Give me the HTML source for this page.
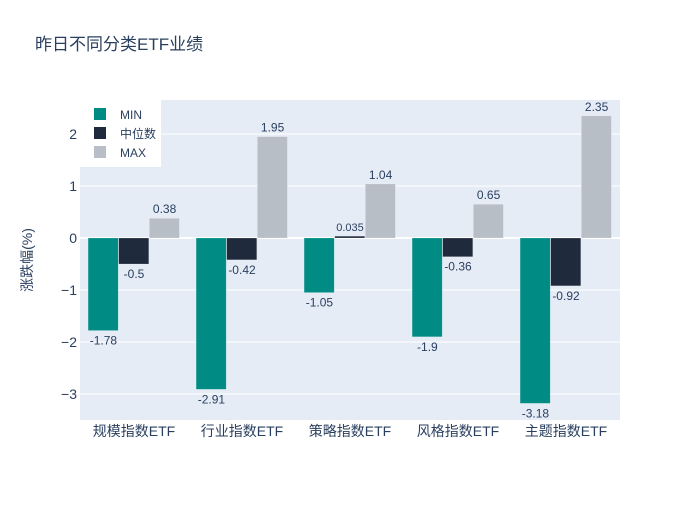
<!DOCTYPE html>
<html><head><meta charset="utf-8"><style>
body{margin:0;background:#fff;}
svg text{font-family:"Liberation Sans","Noto Sans CJK SC",sans-serif;fill:#2a3f5f;}
</style></head><body>
<svg width="700" height="500" xmlns="http://www.w3.org/2000/svg">
<rect width="700" height="500" fill="#fff"/>
<text x="35" y="50" font-size="17">昨日不同分类ETF业绩</text>
<rect x="80" y="100" width="540" height="320" fill="#e5ecf6"/>
<g id="grid"></g>
<g id="bars"></g>
<g id="labels"></g>
<text transform="translate(32,260) rotate(-90)" text-anchor="middle" font-size="14">涨跌幅(%)</text>
<g>
<rect x="80" y="100" width="81" height="67" fill="#fff"/>
<rect x="94" y="108" width="12" height="12" fill="#008b85"/>
<text x="120" y="119" font-size="12">MIN</text>
<rect x="94" y="127" width="12" height="12" fill="#1f2a3c"/>
<text x="120" y="138" font-size="12">中位数</text>
<rect x="94" y="146" width="12" height="12" fill="#b8bec6"/>
<text x="120" y="157" font-size="12">MAX</text>
</g>
</svg>
<script>
const categories=["规模指数ETF","行业指数ETF","策略指数ETF","风格指数ETF","主题指数ETF"];
const minVals=[-1.78,-2.91,-1.05,-1.9,-3.18];
const medVals=[-0.5,-0.42,0.035,-0.36,-0.92];
const maxVals=[0.38,1.95,1.04,0.65,2.35];
const yTicks=[-3,-2,-1,0,1,2];
const yTickLabels=["−3","−2","−1","0","1","2"];
const NS="http://www.w3.org/2000/svg";
const X0=80,W=540,yMin=-3.5,yMax=2.654,PT=100,PB=420;
function y(v){return PB-(v-yMin)/(yMax-yMin)*(PB-PT);}
const bw=W/categories.length;
function xc(i){return X0+bw*(i+0.5);}
function mk(tag,attrs,parent){const e=document.createElementNS(NS,tag);for(const k in attrs)e.setAttribute(k,attrs[k]);document.getElementById(parent).appendChild(e);return e;}
yTicks.forEach((t,i)=>{
  const l=mk('line',{x1:X0,x2:X0+W,y1:y(t),y2:y(t),stroke:'#fff','stroke-width':t===0?2:1},'grid');
  
  
  const tx=mk('text',{x:X0-3,y:y(t)+5,'text-anchor':'end','font-size':14},'grid');
  tx.textContent=yTickLabels[i];
  
  
});
categories.forEach((c,i)=>{
  const t=mk('text',{x:xc(i),y:436,'text-anchor':'middle','font-size':14},'labels');
  t.textContent=c;
  
  
});
const series=[[minVals,'#008b85','min'],[medVals,'#1f2a3c','median'],[maxVals,'#b8bec6','max']];
const barW=bw*0.85/3;
series.forEach(([vals,col,nm],s)=>{
  vals.forEach((v,i)=>{
    const x=xc(i)-bw*0.85/2+s*barW;
    const top=Math.min(y(v),y(0)),h=Math.abs(y(v)-y(0));
    const r=mk('rect',{x:x,y:top,width:barW-0.5,height:Math.max(h,0.5),fill:col,stroke:'rgba(255,255,255,0.4)','stroke-width':0.5},'bars');
    
    
    const small=Math.abs(v)<0.1;
    const ly=v>=0?y(v)-5:y(v)+14;
    const t=mk('text',{x:x+barW/2,y:ly,'text-anchor':'middle','font-size':small?11:12},'labels');
    t.textContent=String(v);
    
    
  });
});
</script>
</body></html>
